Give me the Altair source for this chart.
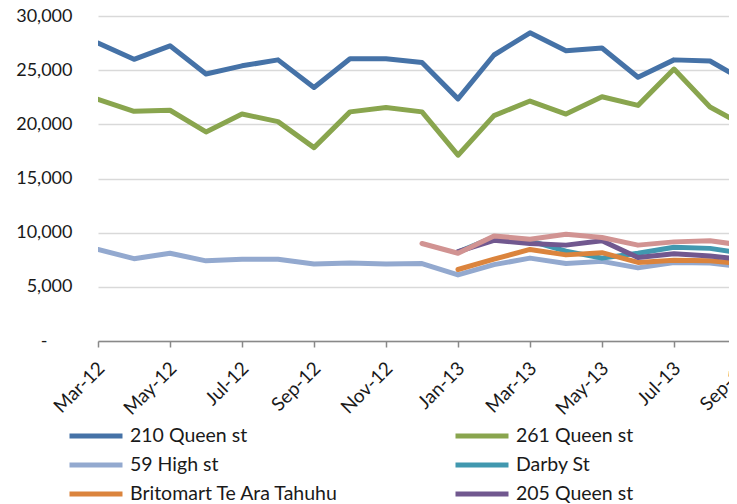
import json
import altair as alt
import pandas as pd

months = ["Mar-12", "Apr-12", "May-12", "Jun-12", "Jul-12", "Aug-12", "Sep-12",
          "Oct-12", "Nov-12", "Dec-12", "Jan-13", "Feb-13", "Mar-13", "Apr-13",
          "May-13", "Jun-13", "Jul-13", "Aug-13", "Sep-13"]

q210 = [27500, 26000, 27250, 24650, 25400, 25950, 23400, 26050, 26050, 25700,
        22350, 26400, 28450, 26800, 27050, 24350, 25950, 25850, 23950]
q261 = [22300, 21200, 21300, 19300, 20950, 20250, 17850, 21150, 21550, 21150,
        17150, 20800, 22150, 20950, 22550, 21750, 25100, 21600, 19800]
high59 = [8450, 7600, 8100, 7400, 7550, 7550, 7100, 7200, 7100, 7150,
          6100, 7050, 7650, 7150, 7350, 6750, 7250, 7200, 6800]
darby = [None] * 10 + [8200, 9600, 9250, 8300, 7650, 8100, 8650, 8550, 8050]
britomart = [None] * 10 + [6600, 7550, 8450, 7950, 8150, 7250, 7450, 7400, 7100]
q205 = [None] * 10 + [8250, 9300, 9000, 8850, 9250, 7700, 8050, 7850, 7500]
other = [None] * 9 + [9000, 8100, 9700, 9400, 9850, 9550, 8850, 9150, 9250, 8800]

series_names = ["210 Queen st", "261 Queen st", "59 High st", "Darby St",
                "Britomart Te Ara Tahuhu", "205 Queen st", "Other"]
series_values = [q210, q261, high59, darby, britomart, q205, other]
colors = ["#4572A7", "#89A54E", "#93A9CF", "#4198AF", "#DB843D", "#71588F", "#D19392"]

rows = []
for name, vals in zip(series_names, series_values):
    for i, v in enumerate(vals):
        if v is not None:
            rows.append({"series": name, "idx": i, "value": v})
df = pd.DataFrame(rows)

# tick label that sits just past the visible right edge (partly visible)
edge_labels = pd.DataFrame({"idx": [18], "label": [months[18]]})

labels_js = json.dumps(months)
font = "Lato"
text_color = "#1a1a1a"

plot_w = 631
plot_h = 325
month_px = 36
tick_size = 6
label_pad = 18

x_scale = alt.Scale(domain=[0, plot_w / month_px], nice=False, zero=False)

lines = alt.Chart(df).mark_line(
    strokeWidth=5, strokeCap="round", strokeJoin="round", clip=True
).encode(
    x=alt.X("idx:Q", scale=x_scale,
            axis=alt.Axis(values=list(range(0, 19, 2)),
                          labelExpr=f"{labels_js}[datum.value]",
                          labelAngle=-45, labelAlign="right", labelBaseline="middle",
                          grid=False, title=None,
                          domainColor="#898989", tickColor="#898989",
                          domainWidth=1.5, tickWidth=1.5, tickSize=tick_size,
                          labelFont=font, labelFontSize=19, labelColor=text_color,
                          labelPadding=label_pad, labelOffset=3)),
    y=alt.Y("value:Q",
            scale=alt.Scale(domain=[0, 30000], nice=False),
            axis=alt.Axis(values=list(range(0, 30001, 5000)),
                          labelExpr="datum.value == 0 ? '-' : format(datum.value, ',')",
                          domain=False, ticks=False, tickSize=0,
                          gridColor="#D9D9D9", gridWidth=1.5,
                          labelPadding={"condition": {"test": "datum.value == 0", "value": 51},
                                        "value": 26},
                          title=None,
                          labelFont=font, labelFontSize=18, labelColor=text_color)),
    color=alt.Color("series:N",
                    scale=alt.Scale(domain=series_names, range=colors),
                    legend=alt.Legend(orient="none", legendX=-31, legendY=403,
                                      direction="horizontal",
                                      columns=2, columnPadding=106, rowPadding=2,
                                      symbolType="M-1,0H2.655", symbolSize=841,
                                      symbolStrokeWidth=5,
                                      labelFont=font, labelFontSize=19.5,
                                      labelColor=text_color, labelOffset=29,
                                      labelLimit=400, title=None)),
)

edge = alt.Chart(edge_labels).mark_text(
    angle=315, align="right", baseline="middle", font=font, fontSize=19,
    color=text_color, clip=False
).encode(
    x=alt.X("idx:Q", scale=x_scale),
    y=alt.value(plot_h + tick_size + label_pad),
    text="label:N",
)

chart = alt.layer(lines, edge).properties(
    width=plot_w, height=plot_h,
    padding={"left": 90, "top": 8, "right": 0, "bottom": 200},
    autosize=alt.AutoSizeParams(type="none"),
).configure_view(stroke=None)

chart.save("out.html", embed_options={"renderer": "svg", "actions": False})
